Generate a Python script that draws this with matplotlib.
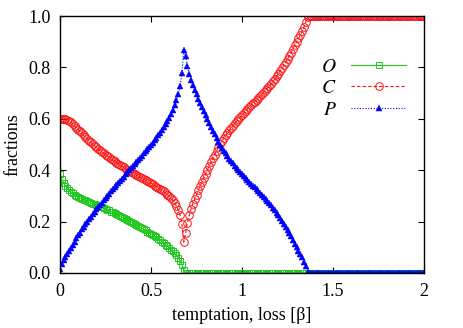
import numpy as np
import matplotlib
matplotlib.use("Agg")
import matplotlib.pyplot as plt

plt.rcParams['font.family'] = ['Liberation Serif', 'DejaVu Serif']
plt.rcParams['mathtext.fontset'] = 'stix'

# temptation, loss beta: 0.00 .. 2.00 in steps of 0.01
beta = np.round(np.arange(0, 201) * 0.01, 2)

frac_O = [0.385, 0.365, 0.35, 0.338, 0.33, 0.322, 0.316, 0.31, 0.305, 0.30,
          0.296, 0.292, 0.288, 0.285, 0.282, 0.279, 0.276, 0.273, 0.27, 0.267,
          0.264, 0.261, 0.258, 0.255, 0.252, 0.249, 0.246, 0.243, 0.239, 0.236,
          0.232, 0.229, 0.225, 0.222, 0.218, 0.214, 0.21, 0.206, 0.202, 0.198,
          0.194, 0.19, 0.186, 0.182, 0.178, 0.174, 0.17, 0.166, 0.161, 0.157,
          0.152, 0.148, 0.143, 0.138, 0.133, 0.128, 0.122, 0.116, 0.11, 0.104,
          0.098, 0.091, 0.084, 0.076, 0.068, 0.059, 0.048, 0.032, 0.012] + [0.0] * 132

frac_C = [0.60, 0.60, 0.601, 0.60, 0.597, 0.592, 0.586, 0.58, 0.573, 0.566,
          0.558, 0.551, 0.543, 0.536, 0.529, 0.522, 0.515, 0.508, 0.501, 0.495,
          0.489, 0.483, 0.477, 0.471, 0.465, 0.46, 0.455, 0.45, 0.444, 0.439,
          0.434, 0.429, 0.425, 0.42, 0.415, 0.411, 0.406, 0.402, 0.398, 0.393,
          0.389, 0.385, 0.381, 0.377, 0.373, 0.369, 0.365, 0.361, 0.357, 0.353,
          0.349, 0.345, 0.34, 0.336, 0.332, 0.327, 0.322, 0.317, 0.311, 0.305,
          0.298, 0.29, 0.282, 0.272, 0.26, 0.245, 0.225, 0.19, 0.12, 0.155,
          0.195, 0.225, 0.25, 0.27, 0.288, 0.305, 0.322, 0.338, 0.355, 0.371,
          0.387, 0.402, 0.417, 0.432, 0.447, 0.461, 0.475, 0.489, 0.502, 0.514,
          0.525, 0.535, 0.545, 0.555, 0.564, 0.573, 0.582, 0.59, 0.598, 0.606,
          0.614, 0.622, 0.63, 0.638, 0.646, 0.653, 0.66, 0.667, 0.674, 0.681,
          0.688, 0.696, 0.704, 0.712, 0.72, 0.728, 0.737, 0.746, 0.755, 0.765,
          0.775, 0.786, 0.797, 0.808, 0.82, 0.832, 0.845, 0.858, 0.872, 0.886,
          0.90, 0.913, 0.926, 0.94, 0.956, 0.975, 0.995] + [1.0] * 64

frac_P = [0.015, 0.035, 0.049, 0.062, 0.073, 0.086, 0.098, 0.11, 0.122, 0.134,
          0.146, 0.157, 0.169, 0.179, 0.189, 0.199, 0.209, 0.219, 0.229, 0.238,
          0.247, 0.256, 0.265, 0.274, 0.283, 0.291, 0.299, 0.307, 0.317, 0.325,
          0.334, 0.342, 0.35, 0.358, 0.367, 0.375, 0.384, 0.392, 0.40, 0.409,
          0.417, 0.425, 0.433, 0.441, 0.449, 0.457, 0.465, 0.473, 0.482, 0.49,
          0.499, 0.507, 0.517, 0.526, 0.535, 0.545, 0.556, 0.567, 0.579, 0.591,
          0.604, 0.619, 0.634, 0.652, 0.672, 0.696, 0.727, 0.778, 0.868, 0.845,
          0.805, 0.775, 0.75, 0.73, 0.712, 0.695, 0.678, 0.662, 0.645, 0.629,
          0.613, 0.598, 0.583, 0.568, 0.553, 0.539, 0.525, 0.511, 0.498, 0.486,
          0.475, 0.465, 0.455, 0.445, 0.436, 0.427, 0.418, 0.41, 0.402, 0.394,
          0.386, 0.378, 0.37, 0.362, 0.354, 0.347, 0.34, 0.333, 0.326, 0.319,
          0.312, 0.304, 0.296, 0.288, 0.28, 0.272, 0.263, 0.254, 0.245, 0.235,
          0.225, 0.214, 0.203, 0.192, 0.18, 0.168, 0.155, 0.142, 0.128, 0.114,
          0.10, 0.087, 0.074, 0.06, 0.044, 0.025, 0.005] + [0.0] * 64

fig = plt.figure(figsize=(4.63, 3.28), dpi=100)
ax = fig.add_axes([0.1296, 0.168, 0.7862, 0.783])

ax.plot(beta, frac_O, color='#20c820', lw=0.8, ls='-', marker='s', ms=5,
        mfc='none', mew=0.7, label=r'$O$')
ax.plot(beta, frac_C, color='#ff1010', lw=0.8, ls=(0, (3, 2)), marker='o', ms=5.5,
        mfc='none', mew=0.7, label=r'$C$')
ax.plot(beta, frac_P, color='#0000ff', lw=0.8, ls=(0, (1, 1.5)), marker='^', ms=4.5,
        mew=0.3, label=r'$P$')

ax.set_xlim(0, 2)
ax.set_ylim(0, 1)
ax.set_xticks([0, 0.5, 1, 1.5, 2])
ax.set_xticklabels(['0', '0.5', '1', '1.5', '2'])
ax.set_yticks([0, 0.2, 0.4, 0.6, 0.8, 1.0])
ax.set_yticklabels(['0.0', '0.2', '0.4', '0.6', '0.8', '1.0'])
ax.tick_params(direction='in', top=True, right=True, length=4, width=0.8,
               labelsize=13, pad=7)
for s in ax.spines.values():
    s.set_linewidth(1.0)

ax.set_xlabel('temptation, loss [β]', fontsize=13, labelpad=5)
ax.set_ylabel('fractions', fontsize=13, labelpad=5)

leg = ax.legend(loc='upper right', bbox_to_anchor=(0.998, 0.905), frameon=False,
                markerfirst=False, numpoints=1, handlelength=2.8,
                handletextpad=0.75, labelspacing=0.2, fontsize=14)

fig.savefig('out.png', dpi=100)
